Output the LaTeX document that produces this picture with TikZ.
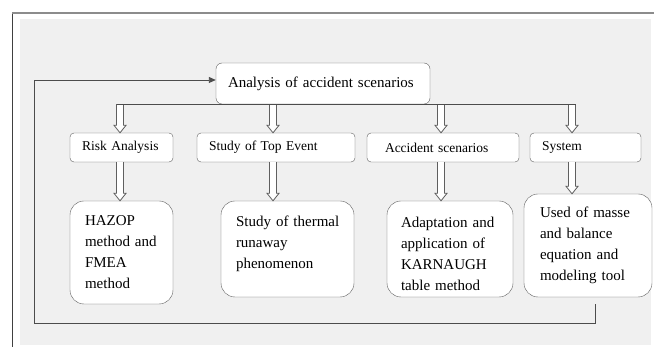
\documentclass[tikz,border=0pt]{standalone}
\usepackage{fontspec}
\setmainfont{Liberation Serif}
\usetikzlibrary{calc,arrows.meta}

\definecolor{panelgray}{RGB}{240,240,240}
\definecolor{edgegray}{RGB}{95,95,95}

\tikzset{
  topbox/.style={draw=edgegray, fill=white, rounded corners=6pt, minimum height=41pt,
    inner xsep=12pt, inner ysep=0pt, text width=190pt, align=left,
    font=\fontsize{15}{18}\selectfont},
  midbox/.style={draw=edgegray, fill=white, rounded corners=4pt, minimum height=29pt,
    inner xsep=12pt, inner ysep=0pt, align=left, font=\fontsize{13.5}{16}\selectfont},
  lowbox/.style={draw=edgegray, fill=white, rounded corners=14pt,
    inner xsep=15pt, inner ysep=0pt, align=left, font=\fontsize{15}{21}\selectfont},
  hollow/.style={draw=edgegray, fill=white, line width=0.8pt, line join=miter},
  feedback/.style={draw=black!70, line width=0.9pt}
}

% hollow arrow: x from #1, top from #2, tip on #3
\newcommand{\hollowdown}[3]{%
  \draw[hollow] let \p1=(#1), \p2=(#2), \p3=(#3) in
    (\x1-3.5pt,\y2) -- (\x1-3.5pt,\y3+7.5pt) -- (\x1-6pt,\y3+7.5pt) -- (\x1,\y3)
    -- (\x1+6pt,\y3+7.5pt) -- (\x1+3.5pt,\y3+7.5pt) -- (\x1+3.5pt,\y2);}

\begin{document}
\begin{tikzpicture}[x=1pt, y=-1pt]
  \useasboundingbox (0,0) rectangle (654,347);

  % Draw the panel and its frame
  \fill[panelgray] (20,19) rectangle (651,345);
  \draw[black!75, line width=0.9pt] (12,347) -- (12,13);
  \draw[black!45, line width=1.5pt] (12,13) -- (654,13);

  % Boxes
  \node[topbox] (analysis) at (323,83.5) {Analysis of accident scenarios};

  \node[midbox, text width=79pt] (risk) at (121.5,147.5) {Risk Analysis};
  \node[midbox, text width=134pt] (topev) at (276,147.5) {Study of Top Event};
  \node[midbox, inner xsep=18pt, text width=116pt] (accsc) at (443,147.5) {Accident scenarios};
  \node[midbox, text width=87pt] (system) at (585.5,147.5) {System};

  \node[lowbox, text width=73pt, minimum height=103pt] (hazop) at (121.5,252.5)
    {HAZOP\\method and\\FMEA\\method};
  \node[lowbox, text width=103pt, minimum height=96pt, text depth=56pt] (thermal) at (287.5,249)
    {\mbox{Study of thermal}\\runaway\\phenomenon};
  \node[lowbox, inner xsep=14pt, text width=98pt, minimum height=96pt, text height=20pt] (adapt) at (450,249)
    {Adaptation and\\application of\\KARNAUGH\\table method};
  \node[lowbox, inner xsep=16pt, text width=96pt, minimum height=103pt] (used) at (588,245.5)
    {Used of masse\\and balance\\equation and\\modeling tool};

  % Columns of the hollow arrows
  \coordinate (col1) at ([xshift=-1.5pt]risk.north);
  \coordinate (col2) at ([xshift=-3pt]topev.north);
  \coordinate (col3) at ([xshift=-2pt]accsc.north);
  \coordinate (col4) at ([xshift=-13.5pt]system.north);

  \hollowdown{col1}{analysis.south}{risk.north}
  \hollowdown{col2}{analysis.south}{topev.north}
  \hollowdown{col3}{analysis.south}{accsc.north}
  \hollowdown{col4}{analysis.south}{system.north}

  \hollowdown{col1}{risk.south}{hazop.north}
  \hollowdown{col2}{topev.south}{thermal.north}
  \hollowdown{col3}{accsc.south}{adapt.north}
  \hollowdown{col4}{system.south}{used.north}

  \draw[black!70, line width=0.9pt] ($(col1 |- analysis.south)+(-3.5pt,0)$)
    -- ($(col4 |- analysis.south)+(3.5pt,0)$);

  % Feedback loop
  \coordinate (fbend) at ([xshift=7pt, yshift=-7pt]used.south);
  \coordinate (fbcorner) at (34,323);
  \draw[feedback, -{Triangle[length=7pt, width=6pt]}] (fbend) |- (fbcorner)
    |- ([yshift=3.5pt]analysis.west);
\end{tikzpicture}
\end{document}
